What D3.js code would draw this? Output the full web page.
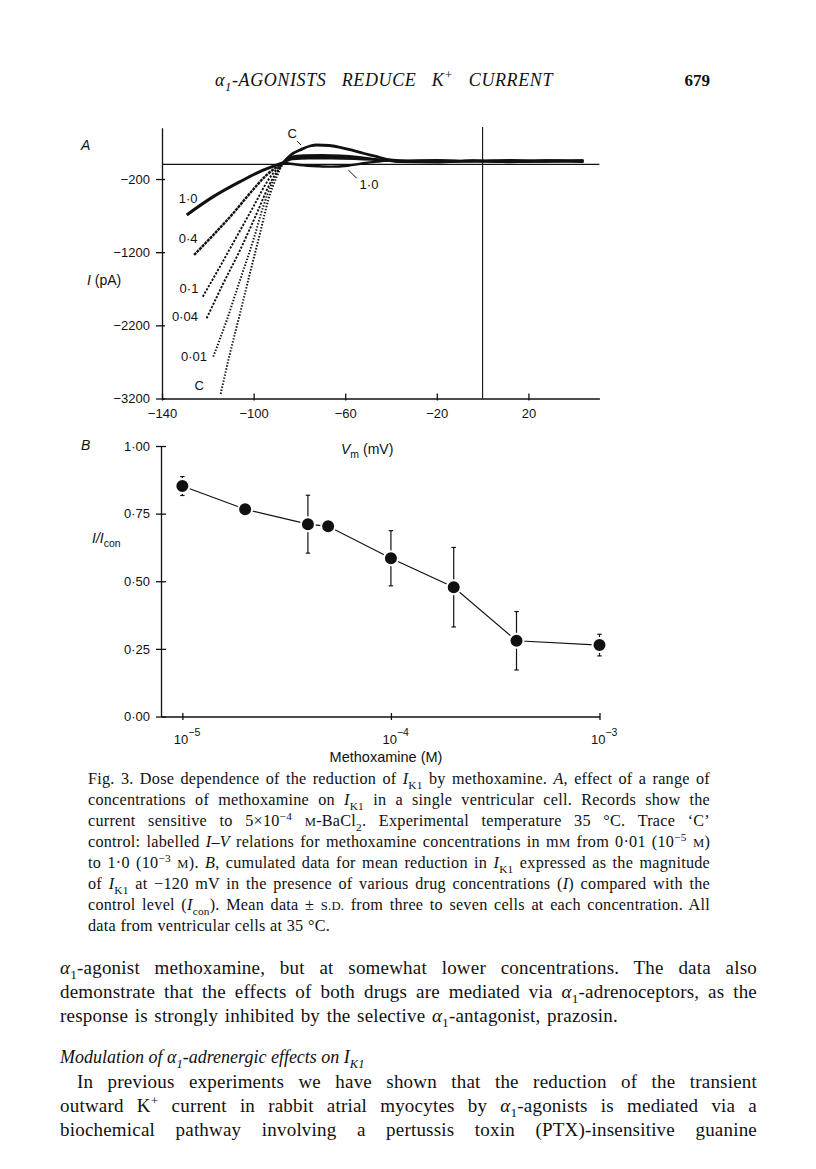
<!DOCTYPE html>
<html>
<head>
<meta charset="utf-8">
<script src="https://cdn.jsdelivr.net/npm/d3@7"></script>
<style>
body { margin: 0; background: #fff; }
svg { display: block; }
text { white-space: pre; }
</style>
</head>
<body>
<svg id="page" width="816" height="1169"></svg>
<script>
// ---- panel A : I-V traces (membrane potential in mV, current in pA)
var vmTicks = [-140, -100, -60, -20, 20];
var iTicks = [-200, -1200, -2200, -3200];
var vmDomain = [-140, 51];
var iDomain = [-3200, 500];

var vC   = [-114.4, -110.3, -105.9, -101.6, -97.2, -93.6, -89.9, -87.0, -82.7, -79.7, -75.4, -72.4, -67.0, -62.3, -57.0, -52.1, -46.5, -41.9, -36, -20, -4, 12, 28, 44];
var iC   = [-3138, -2582, -2035, -1488, -942, -487, -168, 25, 152, 197, 251, 265, 258, 234, 195, 152, 108, 70, 52, 42, 48, 40, 50, 46];
var v001 = [-117.6, -111.7, -105.9, -100.1, -95.8, -91.4, -87.0, -84, -78, -70, -62, -54, -46, -41, -36, -20, -4, 12, 28, 44];
var i001 = [-2628, -2127, -1580, -1033, -578, -213, 25, 100, 125, 128, 120, 100, 70, 55, 45, 58, 42, 57, 44, 55];
var v004 = [-120.5, -113.2, -105.9, -98.6, -92.8, -87.0, -84, -78, -70, -62, -54, -46, -41, -36, -20, -4, 12, 28, 44];
var i004 = [-2103, -1625, -1170, -668, -258, 25, 90, 108, 110, 104, 90, 65, 52, 40, 35, 52, 30, 46, 32];
var v01  = [-122.2, -114.7, -107.4, -100.1, -93.6, -87.0, -84, -76, -66, -56, -48, -42, -36, -20, -4, 12, 28, 44];
var i01  = [-1808, -1398, -988, -578, -213, 25, 80, 95, 96, 88, 70, 52, 50, 38, 44, 60, 40, 48];
var v04  = [-126.0, -117.6, -108.9, -101.6, -94.3, -87.0, -83, -76, -66, -56, -48, -42, -36, -20, -4, 12, 28, 44];
var i04  = [-1238, -965, -668, -395, -145, 25, 70, 82, 82, 75, 62, 48, 44, 60, 38, 45, 58, 40];
var v10  = [-129.2, -117.6, -105.9, -95.8, -87.0, -83, -79.7, -72, -66.6, -59, -52.1, -46, -41.9, -36, -20, -4, 12, 28, 44];
var i10  = [-691, -441, -236, -77, 25, 5, -8, -25, -31, -18, 15, 38, 51, 36, 30, 50, 34, 38, 47];

var traceNames = ["C", "0·01", "0·04", "0·1", "0·4", "1·0"];
var traceV = [vC, v001, v004, v01, v04, v10];
var traceI = [iC, i001, i004, i01, i04, i10];

// ---- panel B : mean I/Icon vs methoxamine concentration (M), with s.d.
var concTicks = [1e-5, 1e-4, 1e-3];
var ratioTicks = [0, 0.25, 0.5, 0.75, 1];
var conc  = [1e-5, 2e-5, 4e-5, 5e-5, 1e-4, 2e-4, 4e-4, 1e-3];
var ratio = [0.852, 0.766, 0.711, 0.703, 0.585, 0.478, 0.280, 0.264];
var ratioSd = [0.035, 0.02, 0.107, 0.02, 0.102, 0.147, 0.108, 0.04];

// ---- page text
var headerLine = "{i:α}{sub:1}-AGONISTS REDUCE K{sup:+} CURRENT";
var captionLines = [
  "Fig. 3. Dose dependence of the reduction of {i:I}{sub:K1} by methoxamine. {i:A}, effect of a range of",
  "concentrations of methoxamine on {i:I}{sub:K1} in a single ventricular cell. Records show the",
  "current sensitive to 5×10{sup:−4} {sc:m}-BaCl{sub:2}. Experimental temperature 35 °C. Trace ‘C’",
  "control: labelled {i:I–V} relations for methoxamine concentrations in m{sc:m} from 0·01 (10{sup:−5} {sc:m})",
  "to 1·0 (10{sup:−3} {sc:m}). {i:B}, cumulated data for mean reduction in {i:I}{sub:K1} expressed as the magnitude",
  "of {i:I}{sub:K1} at −120 mV in the presence of various drug concentrations ({i:I}) compared with the",
  "control level ({i:I}{sub:con}). Mean data ± {sc:s.d.} from three to seven cells at each concentration. All",
  "data from ventricular cells at 35 °C."
];
var bodyLines = [
  "{i:α}{sub:1}-agonist methoxamine, but at somewhat lower concentrations. The data also",
  "demonstrate that the effects of both drugs are mediated via {i:α}{sub:1}-adrenoceptors, as the",
  "response is strongly inhibited by the selective {i:α}{sub:1}-antagonist, prazosin."
];
var headingLine = "Modulation of α{sub:1}-adrenergic effects on I{sub:K1}";
var paraLines = [
  "In previous experiments we have shown that the reduction of the transient",
  "outward K{sup:+} current in rabbit atrial myocytes by {i:α}{sub:1}-agonists is mediated via a",
  "biochemical pathway involving a pertussis toxin (PTX)-insensitive guanine"
];

var sans = '"Liberation Sans", Arial, Helvetica, sans-serif';
var serif = '"Liberation Serif", "Times New Roman", serif';
var ink = "#111";

var svg = d3.select("#page");

// text line with {kind:...} runs, stretched by word spacing to a target width
function richLine(g, markup, x, y, size, width, italic, ls) {
  var t = g.append("text").attr("x", x).attr("y", y)
    .attr("font-family", serif).attr("font-size", size).attr("fill", ink)
    .style("letter-spacing", (ls || 0) + "px");
  if (italic) t.attr("font-style", "italic");
  var re = /\{(\w+):([^}]*)\}|([^{]+)/g, m, off = 0;
  while ((m = re.exec(markup))) {
    var kind = m[1] || "n", s = m[1] ? m[2] : m[3];
    var shift = kind == "sub" ? 0.28 * size : kind == "sup" ? -0.38 * size : 0;
    var ts = t.append("tspan").text(kind == "sc" ? s.toUpperCase() : s);
    if (shift - off != 0) ts.attr("dy", shift - off);
    off = shift;
    if (kind == "sub" || kind == "sup") ts.attr("font-size", size * 0.7);
    if (kind == "sc") ts.attr("font-size", size * 0.78);
    if (kind == "i") ts.attr("font-style", "italic");
  }
  if (width) {
    var len = t.node().getComputedTextLength();
    var n = (t.text().match(/ /g) || []).length;
    if (n) t.style("word-spacing", ((width - len) / n) + "px");
  }
  return t;
}

var gText = svg.append("g");
richLine(gText, headerLine, 215, 86, 18, 338, true, 0.6);
gText.append("text").attr("x", 710).attr("y", 86).attr("text-anchor", "end")
  .attr("font-family", serif).attr("font-weight", "bold").attr("font-size", 17)
  .attr("fill", ink).text("679");

captionLines.forEach(function(s, k) {
  var last = k == captionLines.length - 1;
  richLine(gText, s, 88, 784 + k * 21, 16.2, last ? 242 : 622, false, 0.25);
});
bodyLines.forEach(function(s, k) {
  richLine(gText, s, 60, 974 + k * 24, 19, k == 2 ? 558 : 697, false, 0.2);
});
richLine(gText, headingLine, 60, 1063, 18, null, true, 0);
paraLines.forEach(function(s, k) {
  richLine(gText, s, k == 0 ? 77 : 60, 1088 + k * 24, 19, k == 0 ? 680 : 697, false, 0.2);
});

// ================= panel A =================
var xA = d3.scaleLinear().domain(vmDomain).range([162, 599.4]);
var yA = d3.scaleLinear().domain(iDomain).range([398.5, 127.8]);
var gA = svg.append("g");

function minus(d) { return String(d).replace("-", "\u2212"); }

var axYA = gA.append("g").attr("transform", "translate(" + xA(-140) + ",0)")
  .call(d3.axisLeft(yA).tickValues(iTicks).tickSize(0).tickPadding(12).tickFormat(minus));
axYA.selectAll(".tick line").attr("x1", -6).attr("x2", 3);
var axXA = gA.append("g").attr("transform", "translate(0," + yA(-3200) + ")")
  .call(d3.axisBottom(xA).tickValues(vmTicks).tickSize(0).tickPadding(10).tickFormat(minus));
axXA.selectAll(".tick line").attr("y1", -5).attr("y2", 2);
[axYA, axXA].forEach(function(a) {
  a.attr("font-family", sans).attr("font-size", 13);
  a.selectAll("path, line").attr("stroke", ink).attr("stroke-width", 1.3);
  a.selectAll("text").attr("fill", ink);
});

// zero current line and 0 mV line
gA.append("line").attr("x1", xA(-140)).attr("x2", xA(51)).attr("y1", yA(0)).attr("y2", yA(0))
  .attr("stroke", ink).attr("stroke-width", 1.1);
gA.append("line").attr("x1", xA(0)).attr("x2", xA(0)).attr("y1", yA(-3200)).attr("y2", yA(510))
  .attr("stroke", ink).attr("stroke-width", 1.1);

var traceStyle = {
  "C":    { w: 2,   dash: "1.4,1.7", w2: 2.8 },
  "0·01": { w: 2,   dash: "1.4,1.7", w2: 2 },
  "0·04": { w: 1.9, dash: "2.2,1.5", w2: 2 },
  "0·1":  { w: 1.9, dash: "2.2,1.5", w2: 2 },
  "0·4":  { w: 2.4, dash: "3,0.8",   w2: 2 },
  "1·0":  { w: 3,   dash: null,      w2: 2.4 }
};
var lineA = d3.line().x(function(d) { return xA(d[0]); }).y(function(d) { return yA(d[1]); })
  .curve(d3.curveMonotoneX);

traceNames.forEach(function(name, k) {
  var pts = d3.zip(traceV[k], traceI[k]);
  var st = traceStyle[name];
  var steep = pts.filter(function(p) { return p[0] <= -87; });
  var rest = pts.filter(function(p) { return p[0] >= -87; });
  gA.append("path").attr("d", lineA(steep)).attr("fill", "none").attr("stroke", ink)
    .attr("stroke-width", st.w).attr("stroke-dasharray", st.dash);
  gA.append("path").attr("d", lineA(rest)).attr("fill", "none").attr("stroke", ink)
    .attr("stroke-width", st.w2).attr("stroke-linejoin", "round");
});

// trace labels (placed in data units)
var traceLabels = [
  { t: "1·0", v: -128.6, i: -459 },
  { t: "0·4", v: -128.6, i: -1006 },
  { t: "0·1", v: -128.2, i: -1689 },
  { t: "0·04", v: -130.0, i: -2072 },
  { t: "0·01", v: -126.0, i: -2618 },
  { t: "C", v: -123.8, i: -3014 },
  { t: "C", v: -83.2, i: 429 },
  { t: "1·0", v: -49.6, i: -268 }
];
gA.selectAll("text.lab").data(traceLabels).enter().append("text").attr("class", "lab")
  .attr("x", function(d) { return xA(d.v); }).attr("y", function(d) { return yA(d.i); })
  .attr("dy", "0.36em").attr("text-anchor", "middle")
  .attr("font-family", sans).attr("font-size", 13).attr("fill", ink)
  .text(function(d) { return d.t; });
var leaders = [[[-81.0, 318], [-79.3, 264]], [[-58.6, -77], [-55.0, -190]]];
leaders.forEach(function(l) {
  gA.append("line").attr("x1", xA(l[0][0])).attr("y1", yA(l[0][1]))
    .attr("x2", xA(l[1][0])).attr("y2", yA(l[1][1])).attr("stroke", ink).attr("stroke-width", 1);
});

// axis titles and panel letter
gA.append("text").attr("x", 81).attr("y", 149.5).attr("font-family", sans).attr("font-size", 14)
  .attr("font-style", "italic").attr("fill", ink).text("A");
var tI = gA.append("text").attr("x", 87).attr("y", 285).attr("font-family", sans)
  .attr("font-size", 14).attr("fill", ink);
tI.append("tspan").attr("font-style", "italic").text("I");
tI.append("tspan").text(" (pA)");
var tV = gA.append("text").attr("x", 341).attr("y", 454).attr("font-family", sans)
  .attr("font-size", 14).attr("fill", ink);
tV.append("tspan").attr("font-style", "italic").text("V");
tV.append("tspan").attr("dy", 4).attr("font-size", 10.5).text("m");
tV.append("tspan").attr("dy", -4).text(" (mV)");

// ================= panel B =================
var xB = d3.scaleLog().domain([7.9e-6, 1e-3]).range([161, 599.5]);
var yB = d3.scaleLinear().domain([0, 1]).range([716.5, 446]);
var gB = svg.append("g");

var axYB = gB.append("g").attr("transform", "translate(" + xB.range()[0] + ",0)")
  .call(d3.axisLeft(yB).tickValues(ratioTicks).tickSize(0).tickPadding(11)
    .tickFormat(function(d) { return d3.format(".2f")(d).replace(".", "·"); }));
axYB.selectAll(".tick line").attr("x1", -5).attr("x2", 5);
var axXB = gB.append("g").attr("transform", "translate(0," + yB(0) + ")")
  .call(d3.axisBottom(xB).tickValues(concTicks).tickSize(0).tickFormat(""));
axXB.selectAll(".tick line").attr("y1", -3.5).attr("y2", 3.5);
var tl = axXB.selectAll(".tick").append("text").attr("x", -9).attr("y", 27)
  .attr("text-anchor", "start");
tl.append("tspan").text("10");
tl.append("tspan").attr("dy", -8).attr("font-size", 10.5)
  .text(function(d) { return "\u2212" + Math.round(-Math.log10(d)); });
[axYB, axXB].forEach(function(a) {
  a.attr("font-family", sans).attr("font-size", 13);
  a.selectAll("path, line").attr("stroke", ink).attr("stroke-width", 1.3);
  a.selectAll("text").attr("fill", ink);
});

var ptsB = d3.zip(conc, ratio, ratioSd);
gB.append("path").datum(ptsB)
  .attr("d", d3.line().x(function(d) { return xB(d[0]); }).y(function(d) { return yB(d[1]); }))
  .attr("fill", "none").attr("stroke", ink).attr("stroke-width", 1.2);
var eb = gB.selectAll("g.eb").data(ptsB).enter().append("g").attr("class", "eb")
  .attr("stroke", ink).attr("stroke-width", 1.2);
eb.append("line").attr("x1", function(d) { return xB(d[0]); }).attr("x2", function(d) { return xB(d[0]); })
  .attr("y1", function(d) { return yB(d[1] + d[2]); }).attr("y2", function(d) { return yB(d[1] - d[2]); });
eb.append("line").attr("x1", function(d) { return xB(d[0]) - 2.2; }).attr("x2", function(d) { return xB(d[0]) + 2.2; })
  .attr("y1", function(d) { return yB(d[1] + d[2]); }).attr("y2", function(d) { return yB(d[1] + d[2]); });
eb.append("line").attr("x1", function(d) { return xB(d[0]) - 2.2; }).attr("x2", function(d) { return xB(d[0]) + 2.2; })
  .attr("y1", function(d) { return yB(d[1] - d[2]); }).attr("y2", function(d) { return yB(d[1] - d[2]); });
gB.selectAll("circle").data(ptsB).enter().append("circle")
  .attr("cx", function(d) { return xB(d[0]); }).attr("cy", function(d) { return yB(d[1]); })
  .attr("r", 7).attr("fill", ink).attr("stroke", "#fff").attr("stroke-width", 2);

gB.append("text").attr("x", 81).attr("y", 450).attr("font-family", sans).attr("font-size", 14)
  .attr("font-style", "italic").attr("fill", ink).text("B");
var tR = gB.append("text").attr("x", 92).attr("y", 543).attr("font-family", sans)
  .attr("font-size", 14).attr("fill", ink);
tR.append("tspan").attr("font-style", "italic").text("I/I");
tR.append("tspan").attr("dy", 4).attr("font-size", 10.5).text("con");
gB.append("text").attr("x", 386).attr("y", 762).attr("text-anchor", "middle")
  .attr("font-family", sans).attr("font-size", 14.5).attr("fill", ink).text("Methoxamine (M)");
</script>
</body>
</html>
